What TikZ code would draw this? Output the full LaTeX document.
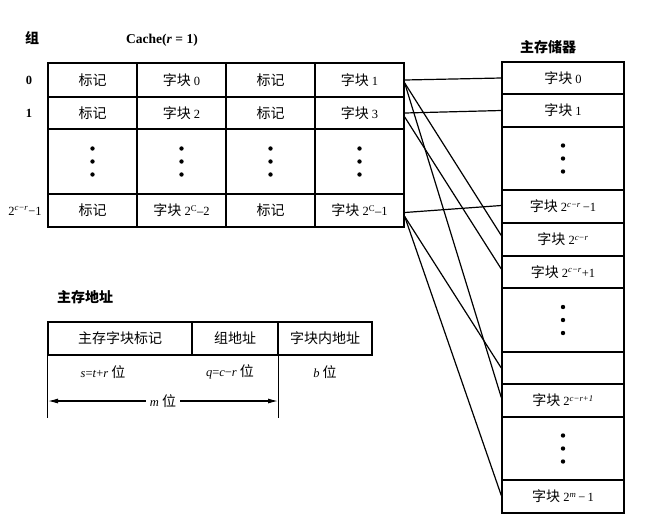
\documentclass[tikz,border=0pt]{standalone}
\usepackage{fontspec}
\setmainfont{Liberation Serif}
\newfontfamily\cjk[Scale=1.12]{Noto Sans CJK SC}
\usetikzlibrary{arrows.meta,calc}
\begin{document}
\begin{tikzpicture}[x=1pt,y=-1pt,
  font=\fontsize{12.5}{14}\selectfont,
  cell/.style={draw, line width=1.4pt, inner sep=0pt, minimum width=89pt, text height=11pt, text depth=1pt},
  mcell/.style={draw, line width=1.4pt, inner sep=0pt, minimum width=122pt, text height=11pt, text depth=1pt},
  acell/.style={draw, line width=1.4pt, inner sep=0pt, minimum height=33pt, text height=11pt, text depth=1pt},
  link/.style={line width=1.2pt},
  lbl/.style={inner sep=1pt}]
\useasboundingbox (0,0) rectangle (663,528);

% headings
\node[lbl] (hzu) at (32,38) {\cjk\bfseries 组};
\node[lbl] (hcache) at (162,40) {\fontsize{13.5}{15}\selectfont\bfseries Cache(\textit{r} = 1)};
\node[lbl] (hmem) at (548,47) {\cjk\bfseries 主存储器};
\node[lbl] (haddr) at (85,297) {\cjk\bfseries 主存地址};

% row labels
\node[lbl] (l0) at (29,80) {\bfseries 0};
\node[lbl] (l1) at (29,113) {\bfseries 1};
\node[lbl] (l2) at (25,211) {2\textsuperscript{\itshape c−r}−1};

% cache rows
\node[cell, minimum height=34pt] (c00) at (92.5,80) {\cjk 标记};
\node[cell, minimum height=34pt] (c01) at (181.5,80) {{\cjk 字块} 0};
\node[cell, minimum height=34pt] (c02) at (270.5,80) {\cjk 标记};
\node[cell, minimum height=34pt] (c03) at (359.5,80) {{\cjk 字块} 1};

\node[cell, minimum height=32pt] (c10) at (92.5,113) {\cjk 标记};
\node[cell, minimum height=32pt] (c11) at (181.5,113) {{\cjk 字块} 2};
\node[cell, minimum height=32pt] (c12) at (270.5,113) {\cjk 标记};
\node[cell, minimum height=32pt] (c13) at (359.5,113) {{\cjk 字块} 3};

\node[cell, minimum height=65pt] (cd0) at (92.5,161.5) {};
\node[cell, minimum height=65pt] (cd1) at (181.5,161.5) {};
\node[cell, minimum height=65pt] (cd2) at (270.5,161.5) {};
\node[cell, minimum height=65pt] (cd3) at (359.5,161.5) {};

\node[cell, minimum height=33pt] (c20) at (92.5,210.5) {\cjk 标记};
\node[cell, minimum height=33pt] (c21) at (181.5,210.5) {{\cjk 字块} 2\textsuperscript{C}–2};
\node[cell, minimum height=33pt] (c22) at (270.5,210.5) {\cjk 标记};
\node[cell, minimum height=33pt] (c23) at (359.5,210.5) {{\cjk 字块} 2\textsuperscript{C}–1};

% main memory
\node[mcell, minimum height=32pt] (m0) at (563,78) {{\cjk 字块} 0};
\node[mcell, minimum height=33pt] (m1) at (563,110.5) {{\cjk 字块} 1};
\node[mcell, minimum height=63pt] (md1) at (563,158.5) {};
\node[mcell, minimum height=33pt] (ma) at (563,206.5) {{\cjk 字块} 2\textsuperscript{\itshape c−r}\,−1};
\node[mcell, minimum height=33pt] (mb) at (563,239.5) {{\cjk 字块} 2\textsuperscript{\itshape c−r}};
\node[mcell, minimum height=32pt] (mc) at (563,272) {{\cjk 字块} 2\textsuperscript{\itshape c−r}+1};
\node[mcell, minimum height=64pt] (md2) at (563,320) {};
\node[mcell, minimum height=32pt] (me) at (563,368) {};
\node[mcell, minimum height=33pt] (mf) at (563,400.5) {{\cjk 字块} 2\textsuperscript{\itshape c−r+1}};
\node[mcell, minimum height=63pt] (md3) at (563,448.5) {};
\node[mcell, minimum height=33pt] (mg) at (563,496.5) {{\cjk 字块} 2\textsuperscript{\itshape m}\,−\,1};

% dots
\foreach \n in {cd0,cd1,cd2,cd3,md1,md2,md3}
  \foreach \d in {-13,0,13}
    \fill ($(\n.center)+(0,\d)$) circle (2.2pt);

% mapping connectors
\draw[link] (c03.east) -- (m0.west);
\draw[link] ($(c03.east)+(0,3)$) -- ($(mb.west)+(0,-4)$);
\draw[link] ($(c03.east)+(0,3)$) -- ($(mf.west)+(0,-3)$);
\draw[link] (c13.east) -- (m1.west);
\draw[link] ($(c13.east)+(0,4)$) -- ($(mc.west)+(0,-3)$);
\draw[link] ($(c23.east)+(0,2)$) -- ($(ma.west)+(0,-1)$);
\draw[link] ($(c23.east)+(0,6)$) -- (me.west);
\draw[link] ($(c23.east)+(0,6)$) -- ($(mg.west)+(0,-1)$);

% address format
\node[acell, minimum width=144pt] (a1) at (120,338.5) {\cjk 主存字块标记};
\node[acell, minimum width=86pt] (a2) at (235,338.5) {\cjk 组地址};
\node[acell, minimum width=94pt] (a3) at (325,338.5) {\cjk 字块内地址};
\coordinate (ext1) at ($(a1.south west)+(0,62)$);
\coordinate (ext2) at ($(a2.south east)+(0,62)$);
\draw[line width=1.4pt] (a1.south west) -- (ext1);
\draw[line width=1.4pt] (a2.south east) -- (ext2);

\node[lbl] (bs) at (103,372) {\textit{s}=\textit{t}+\textit{r} {\cjk 位}};
\node[lbl] (bq) at (230,372) {\textit{q}=\textit{c}−\textit{r} {\cjk 位}};
\node[lbl] (bb) at (325,372) {\textit{b} {\cjk 位}};

\coordinate (ml) at (48,401);
\coordinate (mr) at (278,401);
\draw[line width=1.1pt, {Latex[length=10pt,width=5pt]}-{Latex[length=10pt,width=5pt]}] (ml) -- (mr)
  node[midway, fill=white, inner sep=4pt] (mlab) {\textit{m} {\cjk 位}};
\end{tikzpicture}
\end{document}
